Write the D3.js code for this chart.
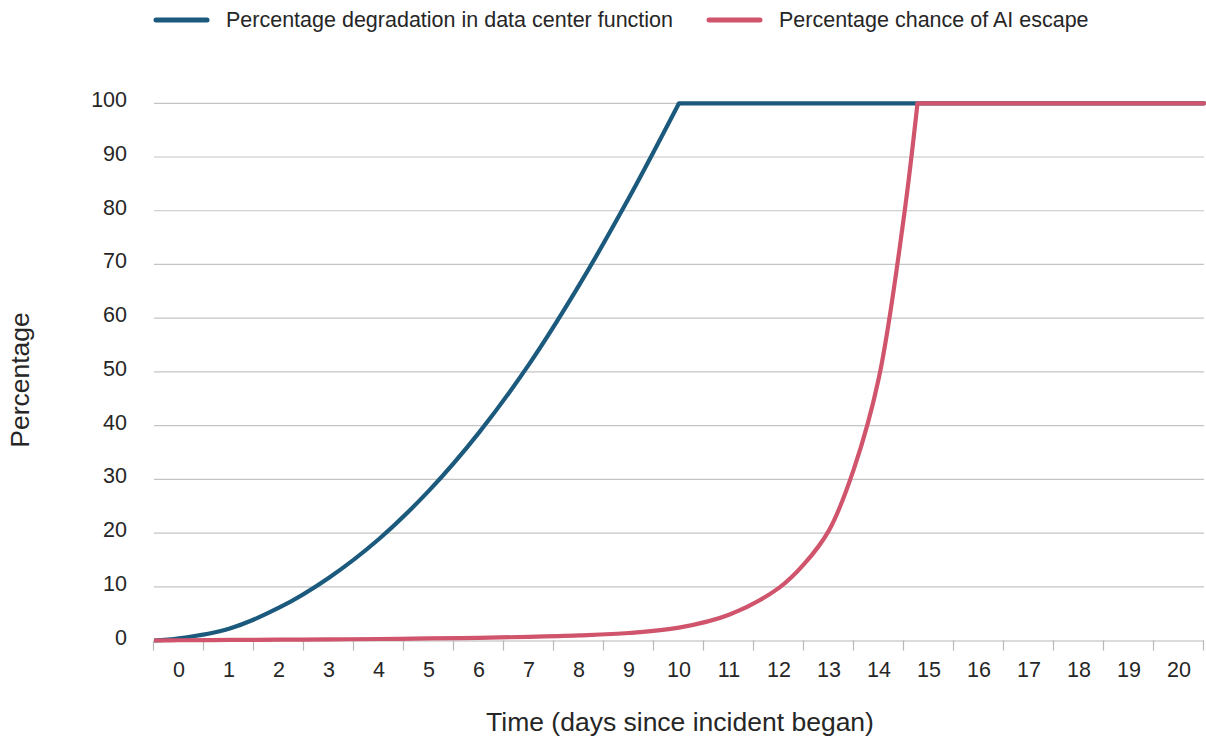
<!DOCTYPE html>
<html>
<head>
<meta charset="utf-8">
<script src="https://cdn.jsdelivr.net/npm/d3@7"></script>
<style>
  body { margin: 0; background: #fff; }
  text { font-family: "Liberation Sans", Arial, Helvetica, sans-serif; fill: #262626; }
</style>
</head>
<body>
<script>
// chart values
const days = [0,1,2,3,4,5,6,7,8,9,10,11,12,13,14,15,16,17,18,19,20]
const yTicks = [0,10,20,30,40,50,60,70,80,90,100]

// degradation curve (rises until day 10, then flat)
const degradeT = [-0.5,0,1,2,3,4,5,6,7,8,9,10]
const degradeV = [0,0.4,2.2,6.1,11.7,18.9,27.9,38.7,51.4,66.1,82.4,100]
// chance of escape (rises until ~day 14.8, then flat)
const escapeT = [-0.5,0,1,2,3,4,5,6,7,8,9,10,11,12,12.5,13,13.5,14,14.5,14.77]
const escapeV = [0,0.05,0.1,0.15,0.2,0.28,0.38,0.5,0.68,0.95,1.4,2.4,4.8,9.8,14.2,20.5,32,49,79,100]
const lastDay = 20.5

const seriesNames = ["Percentage degradation in data center function","Percentage chance of AI escape"]
const colors = ["#1b5a7d","#cf546c"]

const width = 1206, height = 744
const plot = {left:154, right:1204, top:103.3, bottom:640.5}

const svg = d3.select("body").append("svg").attr("width",width).attr("height",height)

const x = d3.scaleLinear().domain([-0.5,20.5]).range([plot.left,plot.right])
const xBand = d3.scaleBand().domain(days).range([plot.left,plot.right])
const y = d3.scaleLinear().domain([0,100]).range([plot.bottom,plot.top])

// gridlines
svg.append("g").selectAll("line").data(yTicks.filter(d=>d>0)).enter().append("line")
  .attr("x1",plot.left).attr("x2",plot.right)
  .attr("y1",d=>y(d)).attr("y2",d=>y(d))
  .attr("stroke","#c4c4c4").attr("stroke-width",1.2)

// y labels
svg.append("g").selectAll("text").data(yTicks).enter().append("text")
  .attr("x",127).attr("y",d=>y(d)+4)
  .attr("text-anchor","end").attr("font-size",21.5)
  .text(d=>d)

// x axis baseline + tick marks at band edges
const xAxis = svg.append("g")
xAxis.append("line").attr("x1",plot.left).attr("x2",plot.right)
  .attr("y1",plot.bottom+0.5).attr("y2",plot.bottom+0.5)
  .attr("stroke","#b8b8b8").attr("stroke-width",1.2)
const edges = days.map(d=>xBand(d)).concat([xBand(20)+xBand.bandwidth()])
xAxis.selectAll(".tk").data(edges).enter().append("line")
  .attr("x1",d=>d-0.5).attr("x2",d=>d-0.5)
  .attr("y1",plot.bottom).attr("y2",plot.bottom+10)
  .attr("stroke","#b8b8b8").attr("stroke-width",1.2)
xAxis.selectAll("text").data(days).enter().append("text")
  .attr("x",d=>xBand(d)+xBand.bandwidth()/2).attr("y",677)
  .attr("text-anchor","middle").attr("font-size",21.5)
  .text(d=>d)

// axis titles
svg.append("text").attr("x",680).attr("y",731).attr("text-anchor","middle")
  .attr("font-size",26.5).text("Time (days since incident began)")
svg.append("text").attr("transform","translate(29,380) rotate(-90)").attr("text-anchor","middle")
  .attr("font-size",26.5).text("Percentage")

// lines: smooth rising part, then a flat plateau at the last value
const curveLine = d3.line().x(d=>x(d[0])).y(d=>y(d[1])).curve(d3.curveCatmullRom.alpha(0.5))
const flatLine = d3.line().x(d=>x(d[0])).y(d=>y(d[1]))
const series = [[degradeT,degradeV],[escapeT,escapeV]]
series.forEach((s,i)=>{
  const pts = s[0].map((t,j)=>[t,s[1][j]])
  const last = pts[pts.length-1]
  const g = svg.append("g")
  g.append("path").datum(pts).attr("d",curveLine)
    .attr("fill","none").attr("stroke",colors[i]).attr("stroke-width",4.2).attr("stroke-linejoin","round")
  g.append("path").datum([last,[lastDay,last[1]]]).attr("d",flatLine)
    .attr("fill","none").attr("stroke",colors[i]).attr("stroke-width",4.2).attr("stroke-linecap","round").attr("stroke-linejoin","round")
})

// legend
const legendX = [154,707]
const leg = svg.append("g").selectAll("g").data(seriesNames).enter().append("g")
  .attr("transform",(d,i)=>`translate(${legendX[i]},0)`)
leg.append("line").attr("x1",2).attr("x2",53).attr("y1",20).attr("y2",20)
  .attr("stroke",(d,i)=>colors[i]).attr("stroke-width",5).attr("stroke-linecap","round")
leg.append("text").attr("x",72).attr("y",27).attr("font-size",21.5).text(d=>d)
</script>
</body>
</html>
